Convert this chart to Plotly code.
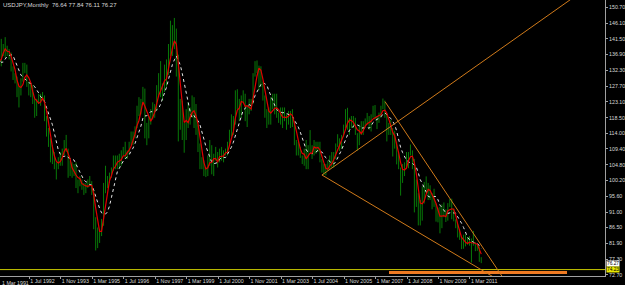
import plotly.graph_objects as go
import pandas as pd

# ---------------- data (USDJPY monthly, Jul 1990 .. Aug 2011) ----------------
start_month = "1990-07-01"

highs = [
    153.0, 151.5, 145.0, 139.0, 133.5, 137.0,                                        # 1990 H2
    137.0, 133.5, 142.0, 141.5, 140.0, 142.0, 139.5, 138.5, 137.5, 133.5, 131.5, 130.5,  # 1991
    127.5, 130.0, 134.5, 134.5, 134.0, 129.0, 128.5, 128.0, 124.0, 124.0, 125.5, 125.5,  # 1992
    126.0, 125.0, 119.0, 115.5, 112.5, 110.5, 108.5, 105.5, 107.0, 108.5, 109.5, 112.0,  # 1993
    113.5, 109.5, 106.0, 105.5, 105.0, 105.5, 100.5, 101.5, 100.5, 99.5, 99.5, 100.5,    # 1994
    101.5, 100.0, 97.5, 89.5, 86.5, 86.0, 89.0, 99.5, 104.5, 101.5, 102.5, 104.0,        # 1995
    107.5, 107.5, 107.5, 108.0, 109.0, 110.0, 111.5, 109.0, 111.5, 114.5, 114.5, 116.0,  # 1996
    122.0, 124.5, 124.0, 127.5, 127.0, 117.0, 119.0, 121.0, 123.0, 122.5, 128.0, 131.5,  # 1997
    135.0, 128.5, 134.0, 135.5, 140.0, 146.8, 145.5, 147.6, 144.5, 136.9, 124.0, 123.5,  # 1998
    117.0, 121.0, 123.0, 121.5, 125.0, 124.5, 122.5, 116.5, 111.0, 107.0, 106.0, 104.0,  # 1999
    107.5, 112.0, 110.5, 108.0, 110.0, 108.5, 109.5, 110.0, 109.0, 109.5, 111.5, 115.0,  # 2000
    119.5, 119.0, 126.5, 126.8, 124.0, 125.0, 126.5, 125.5, 122.0, 124.0, 124.0, 131.5,  # 2001
    135.0, 135.2, 133.7, 133.5, 129.0, 125.0, 121.0, 121.5, 124.5, 125.5, 125.5, 125.5,  # 2002
    120.0, 121.5, 121.5, 121.5, 119.5, 120.5, 120.5, 121.0, 117.5, 112.0, 111.5, 110.0,  # 2003
    107.5, 109.5, 112.0, 110.5, 114.9, 110.5, 112.0, 111.5, 111.5, 111.5, 106.5, 105.0,  # 2004
    105.0, 106.0, 107.5, 108.5, 108.5, 111.0, 113.7, 112.5, 113.5, 116.5, 121.0, 121.4,  # 2005
    118.5, 119.0, 119.0, 118.5, 114.0, 116.5, 117.5, 117.5, 118.3, 119.9, 119.0, 119.5,  # 2006
    122.0, 122.2, 119.0, 120.0, 122.0, 124.1, 123.5, 119.5, 117.0, 117.9, 115.5, 114.7,  # 2007
    111.5, 108.5, 104.0, 105.0, 105.5, 108.5, 108.5, 110.7, 109.0, 106.5, 100.5, 96.5,   # 2008
    94.5, 98.5, 99.8, 101.4, 99.5, 98.8, 96.5, 97.8, 93.5, 92.3, 92.5, 93.2,             # 2009
    93.8, 91.8, 93.6, 94.8, 94.9, 92.0, 88.9, 87.5, 86.0, 83.8, 84.4, 84.5,              # 2010
    83.7, 84.0, 83.3, 85.5, 82.2, 81.5, 81.0, 77.84,                                     # 2011
]

lows = [
    146.0, 142.5, 136.5, 124.5, 126.0, 131.5,
    130.5, 127.5, 132.5, 133.5, 136.5, 136.0, 136.5, 135.5, 132.0, 129.5, 128.5, 124.5,
    121.5, 125.0, 129.0, 131.5, 127.5, 125.0, 124.5, 122.5, 118.5, 119.0, 122.5, 122.0,
    123.5, 117.5, 113.0, 110.0, 105.5, 105.0, 103.5, 100.5, 103.5, 104.5, 104.5, 107.5,
    108.5, 101.0, 101.5, 101.0, 101.5, 98.0, 96.5, 98.5, 97.5, 96.0, 96.5, 98.0,
    98.5, 96.0, 86.0, 79.8, 80.5, 82.0, 84.0, 87.0, 96.5, 98.0, 99.5, 101.0,
    103.0, 103.5, 103.5, 104.0, 104.5, 107.5, 106.5, 106.5, 108.0, 110.5, 110.5, 112.5,
    115.5, 119.0, 119.5, 122.5, 112.5, 110.5, 112.5, 116.5, 118.0, 118.5, 120.5, 124.5,
    124.5, 123.5, 126.0, 127.5, 131.0, 136.5, 136.5, 138.5, 130.5, 111.6, 115.0, 112.0,
    108.3, 112.0, 115.5, 116.5, 118.5, 115.5, 113.5, 108.5, 103.5, 103.5, 101.5, 101.2,
    101.5, 104.5, 102.0, 101.5, 106.0, 104.0, 105.5, 106.0, 105.5, 107.5, 107.5, 110.5,
    113.0, 113.5, 116.5, 121.0, 117.5, 118.5, 123.0, 117.5, 115.8, 119.5, 120.5, 122.5,
    130.5, 131.5, 126.5, 127.5, 123.5, 118.5, 115.5, 116.5, 116.5, 121.0, 119.5, 118.5,
    117.0, 116.5, 115.5, 117.5, 115.0, 116.5, 115.5, 115.8, 110.5, 107.5, 107.5, 106.8,
    105.0, 104.5, 103.5, 103.5, 108.5, 106.5, 107.5, 108.0, 108.5, 105.5, 102.5, 101.8,
    101.7, 103.0, 103.5, 104.0, 104.0, 106.5, 110.0, 108.8, 109.5, 113.0, 115.5, 115.0,
    113.5, 115.5, 115.5, 113.5, 108.9, 110.5, 113.5, 113.5, 115.5, 116.5, 115.0, 114.5,
    118.5, 118.0, 115.2, 117.0, 118.5, 121.0, 118.5, 111.6, 113.5, 113.5, 107.2, 109.5,
    104.9, 103.5, 95.8, 99.5, 101.5, 103.5, 103.8, 107.5, 103.5, 90.9, 92.5, 87.1,
    87.1, 88.5, 93.5, 96.5, 94.5, 94.5, 91.8, 92.5, 88.2, 88.0, 84.8, 86.3,
    89.5, 88.1, 88.5, 92.5, 88.9, 88.3, 86.3, 83.6, 82.9, 80.2, 80.3, 81.0,
    81.5, 81.2, 76.3, 81.2, 79.6, 79.7, 76.5, 76.11,
]

closes = [
    147.3, 144.0, 137.9, 129.5, 132.5, 135.4,
    131.2, 132.9, 140.6, 137.3, 138.5, 138.0, 137.7, 136.9, 133.0, 130.7, 129.6, 124.9,
    125.5, 129.3, 133.0, 133.4, 128.2, 125.9, 127.4, 123.2, 119.9, 123.5, 124.4, 124.6,
    124.8, 117.9, 115.1, 111.0, 107.4, 106.5, 104.7, 104.5, 105.5, 108.2, 109.1, 111.9,
    109.0, 102.4, 102.8, 101.4, 104.5, 98.5, 99.9, 100.1, 98.6, 97.0, 98.8, 99.6,
    99.6, 97.0, 88.4, 83.7, 84.6, 84.7, 88.5, 97.4, 99.0, 102.1, 101.9, 103.4,
    106.9, 104.9, 106.8, 104.9, 108.4, 109.5, 106.9, 108.5, 111.4, 114.0, 113.6, 115.8,
    121.3, 120.1, 123.9, 127.0, 116.5, 114.5, 118.4, 120.6, 120.9, 120.6, 127.8, 130.5,
    126.6, 126.7, 133.3, 132.8, 139.1, 138.8, 144.5, 141.2, 135.4, 116.2, 123.1, 113.1,
    116.0, 118.7, 120.5, 119.3, 121.4, 121.0, 114.7, 109.8, 106.1, 104.0, 102.1, 102.2,
    107.3, 109.8, 102.7, 106.5, 107.4, 105.5, 109.4, 106.7, 107.9, 108.9, 110.4, 114.4,
    116.4, 116.9, 126.0, 123.6, 118.7, 124.7, 125.0, 118.8, 119.5, 122.4, 123.5, 131.0,
    134.7, 133.5, 132.7, 128.5, 124.3, 119.4, 119.9, 118.3, 121.8, 122.5, 122.4, 118.8,
    119.9, 117.8, 118.1, 118.9, 119.3, 119.8, 120.5, 116.9, 111.5, 109.9, 109.4, 107.2,
    105.9, 109.0, 103.9, 110.4, 109.4, 108.8, 111.4, 109.1, 110.1, 105.8, 103.1, 102.6,
    103.6, 104.6, 107.2, 104.9, 108.3, 110.8, 112.5, 111.0, 113.5, 116.4, 119.8, 117.9,
    117.2, 115.8, 117.7, 113.8, 112.6, 114.4, 114.6, 117.3, 118.1, 116.9, 115.8, 119.0,
    121.0, 118.4, 117.8, 119.5, 121.7, 123.2, 118.5, 115.8, 114.8, 115.3, 111.1, 111.7,
    106.4, 103.9, 99.7, 104.0, 105.5, 106.2, 108.1, 108.8, 106.0, 98.4, 95.5, 90.7,
    89.8, 97.6, 98.9, 98.6, 95.3, 96.4, 94.7, 93.0, 89.8, 90.0, 86.4, 93.0,
    90.3, 88.9, 93.4, 94.2, 91.3, 88.4, 86.4, 84.2, 83.5, 80.4, 83.7, 81.2,
    82.1, 81.8, 83.1, 81.2, 81.5, 80.5, 76.7, 76.27,
]

ma_fast_period = 4
ma_slow_period = 8

time_labels = ["1 Mar 1991", "1 Jul 1992", "1 Nov 1993", "1 Mar 1995", "1 Jul 1996",
               "1 Nov 1997", "1 Mar 1999", "1 Jul 2000", "1 Nov 2001", "1 Mar 2003",
               "1 Jul 2004", "1 Nov 2005", "1 Mar 2007", "1 Jul 2008", "1 Nov 2009",
               "1 Mar 2011"]
time_label_dates = ["1991-03", "1992-07", "1993-11", "1995-03", "1996-07", "1997-11",
                    "1999-03", "2000-07", "2001-11", "2003-03", "2004-07", "2005-11",
                    "2007-03", "2008-07", "2009-11", "2011-03"]

price_ticks = [150.70, 146.10, 141.50, 136.90, 132.30, 127.70, 123.10, 118.50, 114.00,
               109.40, 104.80, 100.20, 95.60, 91.00, 86.50, 81.90, 77.30, 72.70]

title_text = "USDJPY,Monthly  76.64 77.84 76.11 76.27"
last_close = 76.27
hline_level = 74.23

# trend line anchors (month index since Mar 1991, price)
trend_lines = [
    [(164.0, 101.8), (308.0, 160.1)],
    [(196.1, 123.18), (258.0, 70.2)],
    [(164.0, 101.8), (252.0, 71.8)],
]
zone = {"m0": 198.1, "m1": 288.6, "p0": 72.94, "p1": 73.85}

x_range = [0.36, 307.9]
y_range = [72.36, 152.83]
tick_shift = 0.75

# ---------------- build ----------------
def month_index(ts):
    return (ts.year - 1991) * 12 + (ts.month - 3)

dates = pd.date_range(start_month, periods=len(closes), freq="MS")
mi = [month_index(d) for d in dates]

bx, by = [], []
for m, lo, hi in zip(mi, lows, highs):
    bx += [m, m, None]
    by += [lo, hi, None]

cs = pd.Series(closes)
ma_fast = cs.rolling(ma_fast_period).mean()
ma_slow = cs.rolling(ma_slow_period).mean()

tick_m = [month_index(pd.Timestamp(d + "-01")) - tick_shift for d in time_label_dates]

fig = go.Figure()
fig.add_trace(go.Scatter(x=bx, y=by, mode="lines",
                         line=dict(color="#087a08", width=1), hoverinfo="skip",
                         showlegend=False))
fig.add_trace(go.Scatter(x=mi, y=ma_slow, mode="lines",
                         line=dict(color="#e6e6e6", width=1, dash="dot"),
                         showlegend=False))
fig.add_trace(go.Scatter(x=mi, y=ma_fast, mode="lines",
                         line=dict(color="#e00000", width=1.2),
                         showlegend=False))

shapes = []
shapes.append(dict(type="rect", xref="x", yref="y", x0=zone["m0"], x1=zone["m1"],
                   y0=zone["p0"], y1=zone["p1"], fillcolor="#ef7a22",
                   line=dict(width=0), layer="below"))
shapes.append(dict(type="line", xref="paper", yref="y", x0=0, x1=1,
                   y0=hline_level, y1=hline_level,
                   line=dict(color="#c8c800", width=1)))
for (a, b) in trend_lines:
    shapes.append(dict(type="line", xref="x", yref="y", x0=a[0], y0=a[1],
                       x1=b[0], y1=b[1], line=dict(color="#d07a1a", width=1)))

font_small = dict(family="Liberation Sans", size=5.3, color="#d8d8d8")
font_box = dict(family="Liberation Sans", size=4.8, color="#000000")

annotations = [
    dict(xref="paper", yref="paper", x=0, y=1, xanchor="left", yanchor="top",
         xshift=1, yshift=0, text=title_text, showarrow=False,
         font=dict(family="Liberation Sans", size=6, color="#d8d8d8")),
    dict(xref="paper", yref="paper", x=0, y=0, xanchor="left", yanchor="top",
         xshift=0, yshift=-2, text=time_labels[0], showarrow=False, font=font_small),
    dict(xref="paper", yref="y", x=1, y=last_close, xanchor="left", yanchor="middle",
         xshift=1, yshift=-0.5, text=f"{last_close:.2f}", showarrow=False,
         bgcolor="#ffffff", borderpad=0, font=font_box),
    dict(xref="paper", yref="y", x=1, y=hline_level, xanchor="left", yanchor="middle",
         xshift=1, text=f"{hline_level:.2f}", showarrow=False, bgcolor="#e8e800",
         borderpad=0, font=font_box),
]

fig.update_layout(
    width=625, height=285,
    margin=dict(l=0, r=20, t=0, b=9, pad=0, autoexpand=False),
    paper_bgcolor="#000000", plot_bgcolor="#000000",
    showlegend=False,
    shapes=shapes, annotations=annotations,
    xaxis=dict(range=x_range, showgrid=False, zeroline=False, automargin=False,
               tickmode="array", tickvals=tick_m, ticktext=time_labels,
               tickangle=0,
               ticks="outside", ticklen=2, tickcolor="#a0a0a0",
               ticklabelposition="outside right",
               showline=True, linecolor="#a0a0a0", linewidth=1,
               tickfont=font_small, fixedrange=True),
    yaxis=dict(range=y_range, side="right", showgrid=False, zeroline=False,
               automargin=False,
               tickmode="array", tickvals=price_ticks,
               ticktext=[f"{v:.2f}" for v in price_ticks],
               ticks="outside", ticklen=2, tickcolor="#a0a0a0",
               showline=True, linecolor="#a0a0a0", linewidth=1,
               tickfont=font_small, fixedrange=True),
)

fig.write_html("out.html")
